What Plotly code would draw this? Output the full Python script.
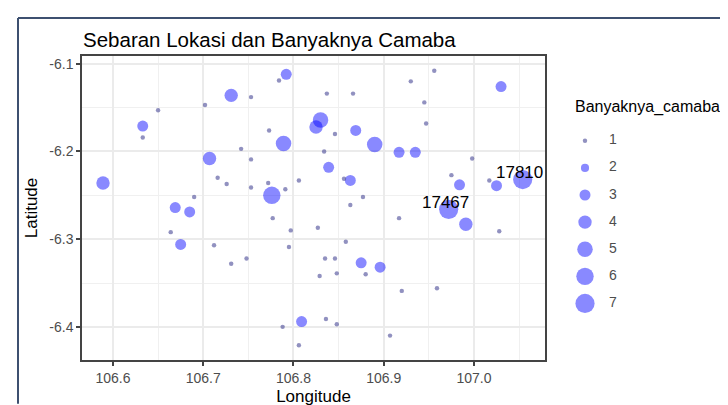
import math
import plotly.graph_objects as go

# ---------------- data ----------------
lon = [106.792, 106.784, 106.731, 106.633, 106.707, 106.589, 106.669, 106.685, 106.675, 106.776,
       106.789, 106.830, 106.825, 106.869, 106.890, 106.917, 106.935, 107.030, 106.839, 106.863,
       106.856, 106.984, 107.025, 107.017, 107.054, 106.972, 106.991, 106.896, 106.875, 106.809,
       106.753, 106.837, 106.866, 106.702, 106.650, 106.633, 106.773, 106.846, 106.742, 106.834,
       106.956, 106.930, 106.945, 106.947, 106.998, 106.975, 106.716, 106.726, 106.690, 106.664,
       106.712, 106.753, 106.806, 106.753, 106.772, 106.791, 106.877, 106.863, 106.777, 106.797,
       106.827, 106.858, 106.795, 106.917, 107.028, 106.731, 106.748, 106.835, 106.846, 106.829,
       106.848, 106.880, 106.788, 106.836, 106.848, 106.806, 106.920, 106.959, 106.907]
lat = [-6.112, -6.119, -6.136, -6.171, -6.208, -6.236, -6.264, -6.269, -6.306, -6.250,
       -6.191, -6.164, -6.172, -6.176, -6.192, -6.201, -6.201, -6.126, -6.218, -6.233,
       -6.231, -6.238, -6.239, -6.233, -6.232, -6.266, -6.283, -6.332, -6.327, -6.394,
       -6.138, -6.134, -6.134, -6.147, -6.153, -6.184, -6.176, -6.180, -6.197, -6.200,
       -6.108, -6.120, -6.144, -6.168, -6.208, -6.227, -6.230, -6.237, -6.252, -6.292,
       -6.307, -6.209, -6.233, -6.241, -6.236, -6.243, -6.252, -6.261, -6.276, -6.290,
       -6.287, -6.303, -6.309, -6.276, -6.291, -6.328, -6.322, -6.322, -6.322, -6.342,
       -6.339, -6.340, -6.400, -6.391, -6.397, -6.421, -6.359, -6.356, -6.410]
banyaknya_camaba = [3, 1, 4, 3, 4, 4, 3, 3, 3, 6,
                    5, 5, 4, 3, 5, 3, 3, 3, 3, 3,
                    1, 3, 3, 1, 7, 7, 4, 3, 3, 3] + [1] * 49

label_lon = [107.054, 106.972]
label_lat = [-6.232, -6.266]
label_text = ["17810", "17467"]

legend_values = [1, 2, 3, 4, 5, 6, 7]
legend_labels = ["1", "2", "3", "4", "5", "6", "7"]

x_tickvals = [106.6, 106.7, 106.8, 106.9, 107.0]
x_ticktext = ["106.6", "106.7", "106.8", "106.9", "107.0"]
y_tickvals = [-6.1, -6.2, -6.3, -6.4]
y_ticktext = ["-6.1", "-6.2", "-6.3", "-6.4"]

# ---------------- styling helpers ----------------
def diam(v):
    s = 1 + 5 * (math.sqrt(v) - 1) / (math.sqrt(7) - 1)
    return 2.95 * (s + 0.5)

def col(v):
    return "rgba(70,70,150,0.85)" if v == 1 else "rgba(0,0,255,0.66)"

FONT = "Liberation Sans, Arial, sans-serif"
W, H = 728, 405
L, R, T, B = 74, 10, 48, 45
PW = W - L - R
PH = H - T - B

def px2paper_x(px):
    return (px - L) / PW

def px2paper_y(py):
    return (H - B - py) / PH

fig = go.Figure()

fig.add_trace(go.Scatter(
    x=lon, y=lat, mode="markers",
    marker=dict(size=[diam(v) for v in banyaknya_camaba],
                color=[col(v) for v in banyaknya_camaba],
                line=dict(width=0)),
    showlegend=False, xaxis="x", yaxis="y"))

# manual size legend
fig.add_trace(go.Scatter(
    x=[17] * len(legend_values), y=legend_values, mode="markers",
    marker=dict(size=[diam(v) for v in legend_values],
                color=[col(v) for v in legend_values], line=dict(width=0)),
    showlegend=False, xaxis="x2", yaxis="y2", hoverinfo="skip"))
fig.add_trace(go.Scatter(
    x=[41] * len(legend_values), y=legend_values, mode="text", text=legend_labels,
    textposition="middle right",
    textfont=dict(family=FONT, size=14, color="#4d4d4d"),
    showlegend=False, xaxis="x2", yaxis="y2", hoverinfo="skip"))

axis_common = dict(
    showline=True, mirror=True, linecolor="#444444", linewidth=1.5,
    ticks="outside", ticklen=4, tickwidth=1.5, tickcolor="#444444",
    showgrid=True, gridcolor="#ebebeb", gridwidth=1.6,
    zeroline=False,
    tickfont=dict(family=FONT, size=14, color="#4d4d4d"),
)

annotations = [dict(text="Banyaknya_camaba", xref="paper", yref="paper",
                    x=px2paper_x(565), y=px2paper_y(100),
                    xanchor="left", yanchor="middle", showarrow=False,
                    font=dict(family=FONT, size=16, color="#000000"))]
for lx, ly, lt in zip(label_lon, label_lat, label_text):
    annotations.append(dict(text=lt, x=lx, y=ly, xref="x", yref="y",
                            showarrow=False, xanchor="center", yanchor="middle",
                            xshift=-3, yshift=7,
                            font=dict(family=FONT, size=17, color="#000000")))

fig.update_layout(
    width=W, height=H,
    margin=dict(l=L, r=R, t=T, b=B),
    paper_bgcolor="white", plot_bgcolor="white",
    title=dict(text="Sebaran Lokasi dan Banyaknya Camaba",
               x=px2paper_x(75), xref="paper", xanchor="left",
               y=1 - 32 / H, yref="container", yanchor="middle",
               font=dict(family=FONT, size=20.5, color="#000000")),
    xaxis=dict(domain=[0, (537 - L) / PW], range=[106.5657, 107.0787],
               tickvals=x_tickvals, ticktext=x_ticktext,
               minor=dict(dtick=0.05, tick0=106.55, showgrid=True,
                          gridcolor="#f0f0f0", gridwidth=0.8, ticks=""),
               title=dict(text="Longitude", standoff=6,
                          font=dict(family=FONT, size=17, color="#000000")),
               **axis_common),
    yaxis=dict(range=[-6.4378, -6.0911],
               tickvals=y_tickvals, ticktext=y_ticktext,
               minor=dict(dtick=0.05, tick0=-6.05, showgrid=True,
                          gridcolor="#f0f0f0", gridwidth=0.8, ticks=""),
               title=dict(text="Latitude", standoff=7,
                          font=dict(family=FONT, size=17, color="#000000")),
               **axis_common),
    xaxis2=dict(domain=[px2paper_x(560), px2paper_x(640)], range=[0, 80],
                visible=False, fixedrange=True),
    yaxis2=dict(domain=[0, 1], range=[9.085, -2.126], anchor="x2",
                visible=False, fixedrange=True),
    annotations=annotations,
    shapes=[
        dict(type="line", xref="paper", yref="paper",
             x0=px2paper_x(10), x1=px2paper_x(728), y0=px2paper_y(9), y1=px2paper_y(9),
             line=dict(color="#3d5070", width=2)),
        dict(type="line", xref="paper", yref="paper",
             x0=px2paper_x(10), x1=px2paper_x(10), y0=px2paper_y(9), y1=px2paper_y(405),
             line=dict(color="#3d5070", width=2)),
    ],
    showlegend=False,
)

fig.write_html("out.html")
